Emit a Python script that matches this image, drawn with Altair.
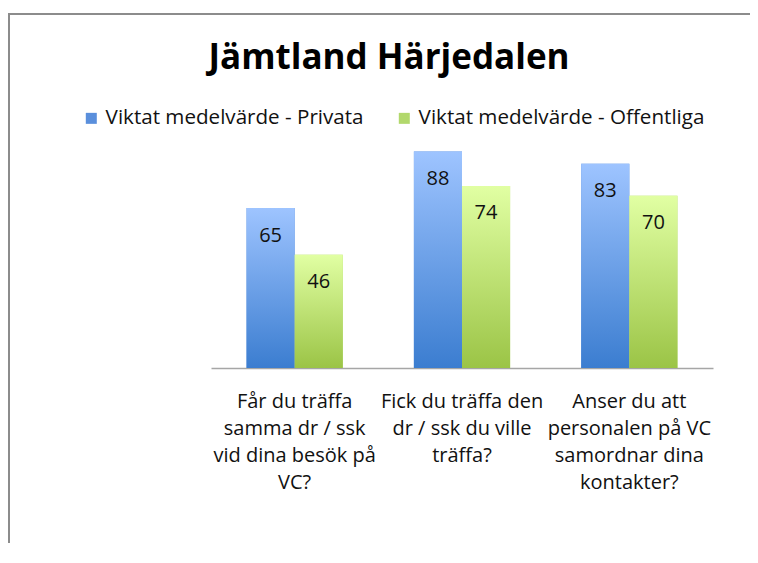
import altair as alt
import pandas as pd

title_text = "Jämtland Härjedalen"
series = ["Viktat medelvärde - Privata", "Viktat medelvärde - Offentliga"]
question_lines = [
    ["Får du träffa", "samma dr / ssk", "vid dina besök på", "VC?"],
    ["Fick du träffa den", "dr / ssk du ville", "träffa?"],
    ["Anser du att", "personalen på VC", "samordnar dina", "kontakter?"],
]
privata = [65, 88, 83]
offentliga = [46, 74, 70]

questions = ["|".join(q) for q in question_lines]
rows = []
for q, p, o in zip(questions, privata, offentliga):
    rows.append({"question": q, "series": series[0], "value": p})
    rows.append({"question": q, "series": series[1], "value": o})
df = pd.DataFrame(rows)

FONT = "Open Sans"
blue_grad = {"gradient": "linear", "x1": 0, "y1": 0, "x2": 0, "y2": 1,
             "stops": [{"offset": 0, "color": "#9ec4ff"}, {"offset": 1, "color": "#3b7dd0"}]}
green_grad = {"gradient": "linear", "x1": 0, "y1": 0, "x2": 0, "y2": 1,
              "stops": [{"offset": 0, "color": "#e1ffa3"}, {"offset": 1, "color": "#9bc446"}]}

x_enc = alt.X("question:N", sort=questions, title=None,
              scale=alt.Scale(paddingInner=0.425, paddingOuter=0.2125),
              axis=alt.Axis(labelExpr="split(datum.label, '|')", labelAngle=0,
                            labelFont=FONT, labelFontSize=20, labelLineHeight=27,
                            labelColor="#111111", labelLimit=400, labelPadding=23,
                            ticks=False, domainColor="#a6a6a6", domainWidth=1.5,
                            grid=False))
y_enc = alt.Y("value:Q", scale=alt.Scale(domain=[0, 100]), axis=None)
xo_enc = alt.XOffset("series:N", sort=series, scale=alt.Scale(domain=series, paddingInner=0, paddingOuter=0))

base = alt.Chart(df)

legend_bars = base.mark_bar().encode(
    x=x_enc, y=y_enc, xOffset=xo_enc,
    color=alt.Color("series:N", sort=series,
                    scale=alt.Scale(domain=series, range=["#5a8fdc", "#b2d86c"]),
                    legend=alt.Legend(title=None, orient="none", legendX=-130, legendY=-14,
                                      direction="horizontal", symbolType="square",
                                      symbolSize=121, symbolStrokeWidth=0,
                                      labelFont=FONT, labelFontSize=20.6, labelColor="#111111",
                                      labelOffset=4, columnPadding=30, labelLimit=400)),
)

blue_bars = base.transform_filter(alt.datum.series == series[0]).mark_bar(fill=blue_grad).encode(
    x=x_enc, y=y_enc, xOffset=xo_enc)
green_bars = base.transform_filter(alt.datum.series == series[1]).mark_bar(fill=green_grad).encode(
    x=x_enc, y=y_enc, xOffset=xo_enc)

labels = base.mark_text(font=FONT, fontSize=20, baseline="middle", dy=27.5, color="#111111").encode(
    x=x_enc, y=y_enc, xOffset=xo_enc, text=alt.Text("value:Q"))

frame_src = alt.Chart(alt.Data(values=[{"a": 1}]))
frame_left = frame_src.mark_rule(stroke="#8c8c8c", strokeWidth=2).encode(
    x=alt.value(-202), y=alt.value(-109), y2=alt.value(421))
frame_top = frame_src.mark_rule(stroke="#8c8c8c", strokeWidth=2).encode(
    x=alt.value(-203), x2=alt.value(539), y=alt.value(-108))

chart = alt.layer(frame_left, frame_top, legend_bars, blue_bars, green_bars, labels).properties(
    width=502, height=246,
    title=alt.TitleParams(title_text, font=FONT, fontSize=35, fontWeight="bold",
                          color="#000000", anchor="middle", frame="group", dx=-73, offset=-64),
    autosize=alt.AutoSizeParams(type="none"),
    padding={"left": 203, "top": 114, "right": 37, "bottom": 175},
).configure_view(strokeWidth=0)

chart.save("out.html", embed_options={"renderer": "svg", "actions": False})
